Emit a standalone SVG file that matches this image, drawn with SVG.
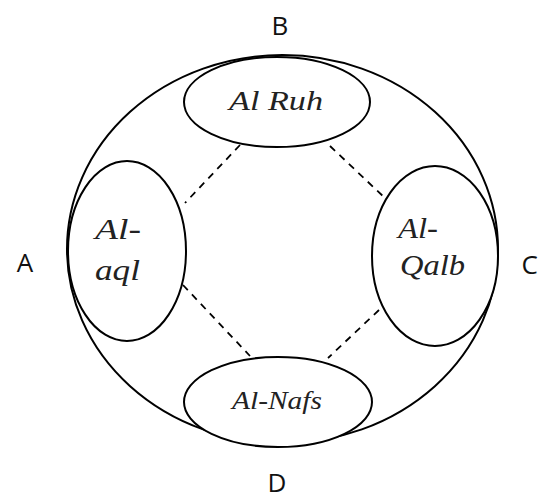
<svg xmlns="http://www.w3.org/2000/svg" width="540" height="500" viewBox="0 0 540 500">
  <style>
    .shape { fill: none; stroke: #000; stroke-width: 2; }
    .node { fill: #fff; stroke: #000; stroke-width: 2; }
    .dash { stroke: #000; stroke-width: 1.8; stroke-dasharray: 7 6; fill: none; }
    .term { font-family: "Liberation Serif", "Times New Roman", serif; font-style: italic; fill: #222; }
    .letter { font-family: "Open Sans", "Liberation Sans", sans-serif; font-size: 26px; fill: #111; text-anchor: middle; }
    .letter.edge { text-anchor: end; }
  </style>
  <rect width="540" height="500" fill="#fff"/>

  <!-- outer boundary -->
  <ellipse class="shape" cx="282.5" cy="249" rx="215.5" ry="194"/>

  <!-- connectors -->
  <g id="connectors">
    <line class="dash" x1="240" y1="145" x2="185" y2="203"/>
    <line class="dash" x1="330" y1="146" x2="386" y2="199"/>
    <line class="dash" x1="183" y1="285" x2="250" y2="356"/>
    <line class="dash" x1="379" y1="310" x2="328" y2="358"/>
  </g>

  <g id="ruh">
    <ellipse class="node" cx="277" cy="102" rx="93" ry="45"/>
    <text class="term" x="229" y="110" font-size="27" textLength="94" lengthAdjust="spacingAndGlyphs">Al Ruh</text>
  </g>

  <g id="aql">
    <ellipse class="node" cx="127" cy="251" rx="59" ry="90"/>
    <text class="term" x="95" y="239" font-size="29" textLength="46" lengthAdjust="spacingAndGlyphs">Al-</text>
    <text class="term" x="95" y="280" font-size="29" textLength="45" lengthAdjust="spacingAndGlyphs">aql</text>
  </g>

  <g id="qalb">
    <ellipse class="node" cx="435" cy="256" rx="63" ry="90"/>
    <text class="term" x="398" y="238" font-size="29" textLength="40" lengthAdjust="spacingAndGlyphs">Al-</text>
    <text class="term" x="400" y="275" font-size="29" textLength="65" lengthAdjust="spacingAndGlyphs">Qalb</text>
  </g>

  <g id="nafs">
    <ellipse class="node" cx="278" cy="402" rx="94" ry="45"/>
    <text class="term" x="232" y="409" font-size="26" textLength="90" lengthAdjust="spacingAndGlyphs">Al-Nafs</text>
  </g>

  <!-- compass letters -->
  <text class="letter" x="280" y="35">B</text>
  <text class="letter" x="25" y="272">A</text>
  <text class="letter edge" x="538" y="274">C</text>
  <text class="letter" x="277" y="492">D</text>
</svg>
